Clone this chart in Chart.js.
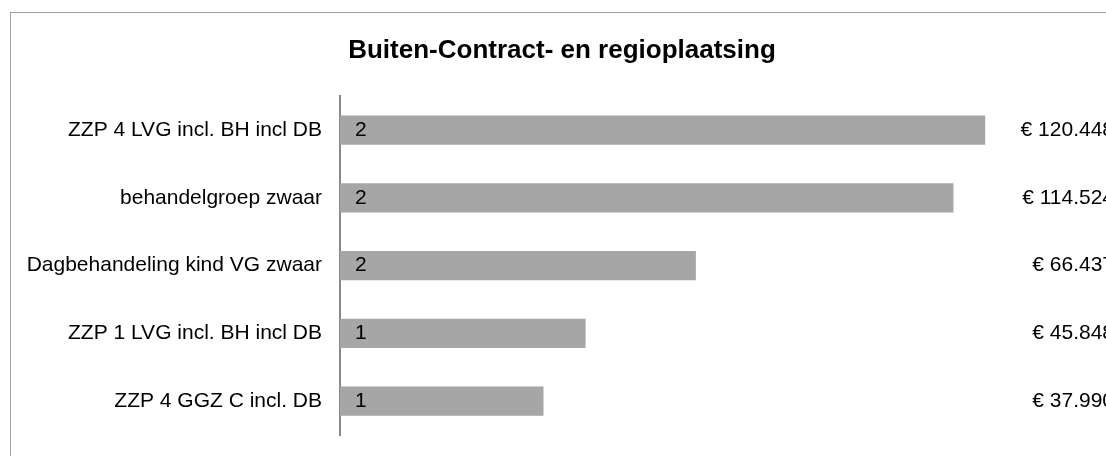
<!DOCTYPE html>
<html>
<head>
<meta charset="utf-8">
<script src="https://cdn.jsdelivr.net/npm/chart.js@4"></script>
<style>
  html, body { margin: 0; padding: 0; overflow: hidden; background: #fff; }
  #frame { position: absolute; left: 10px; top: 12px; width: 1200px; height: 600px; border: 1px solid #a0a0a0; }
  #chart { position: absolute; left: 0; top: 0; }
</style>
</head>
<body>
<div id="frame"></div>
<canvas id="chart" width="1106" height="456"></canvas>
<script>
// Gegevens
const categorieen = [
  "ZZP 4 LVG incl. BH incl DB",
  "behandelgroep zwaar",
  "Dagbehandeling kind VG zwaar",
  "ZZP 1 LVG incl. BH incl DB",
  "ZZP 4 GGZ C incl. DB"
];
const bedragen = [120448, 114524, 66437, 45848, 37990];
const aantallen = [2, 2, 2, 1, 1];

const fontFam = "'Liberation Sans', Arial, Helvetica, sans-serif";
const labelFont = { family: fontFam, size: 21 };

// euro-notatie met punt als duizendtal
const euro = (v) => "€ " + v.toLocaleString("nl-NL");

// labels bij de balken tekenen
const labelPlugin = {
  id: "balkLabels",
  afterDatasetsDraw(chart) {
    const ctx = chart.ctx;
    const meta = chart.getDatasetMeta(0);
    ctx.save();
    ctx.font = labelFont.size + "px " + fontFam;
    ctx.fillStyle = "#000";
    ctx.textBaseline = "middle";
    meta.data.forEach((bar, i) => {
      ctx.textAlign = "left";
      ctx.fillText(String(aantallen[i]), bar.base + 15, bar.y);
      ctx.textAlign = "right";
      ctx.fillText(euro(bedragen[i]), chart.width + 8, bar.y);
    });
    ctx.restore();
  }
};

new Chart(document.getElementById("chart"), {
  type: "bar",
  data: {
    labels: categorieen,
    datasets: [{
      data: bedragen,
      backgroundColor: "#a6a6a6",
      barPercentage: 0.43,
      categoryPercentage: 1
    }]
  },
  options: {
    indexAxis: "y",
    responsive: false,
    animation: false,
    layout: { padding: { left: 18, right: 0, top: 0, bottom: 21 } },
    plugins: {
      legend: { display: false },
      tooltip: { enabled: false },
      title: {
        display: true,
        text: "Buiten-Contract- en regioplaatsing",
        color: "#000",
        font: { family: fontFam, size: 26, weight: "bold", lineHeight: 1.2 },
        padding: { top: 35, bottom: 30 }
      }
    },
    scales: {
      x: { display: false, min: 0, max: 143000 },
      y: {
        grid: { display: false },
        border: { display: true, color: "#888", width: 2 },
        ticks: { color: "#000", font: labelFont, padding: 10 },
        afterFit(scale) {
          scale.width = 322;
          scale.paddingTop = 0;
          scale.paddingBottom = 0;
        }
      }
    }
  },
  plugins: [labelPlugin]
});
</script>
</body>
</html>
